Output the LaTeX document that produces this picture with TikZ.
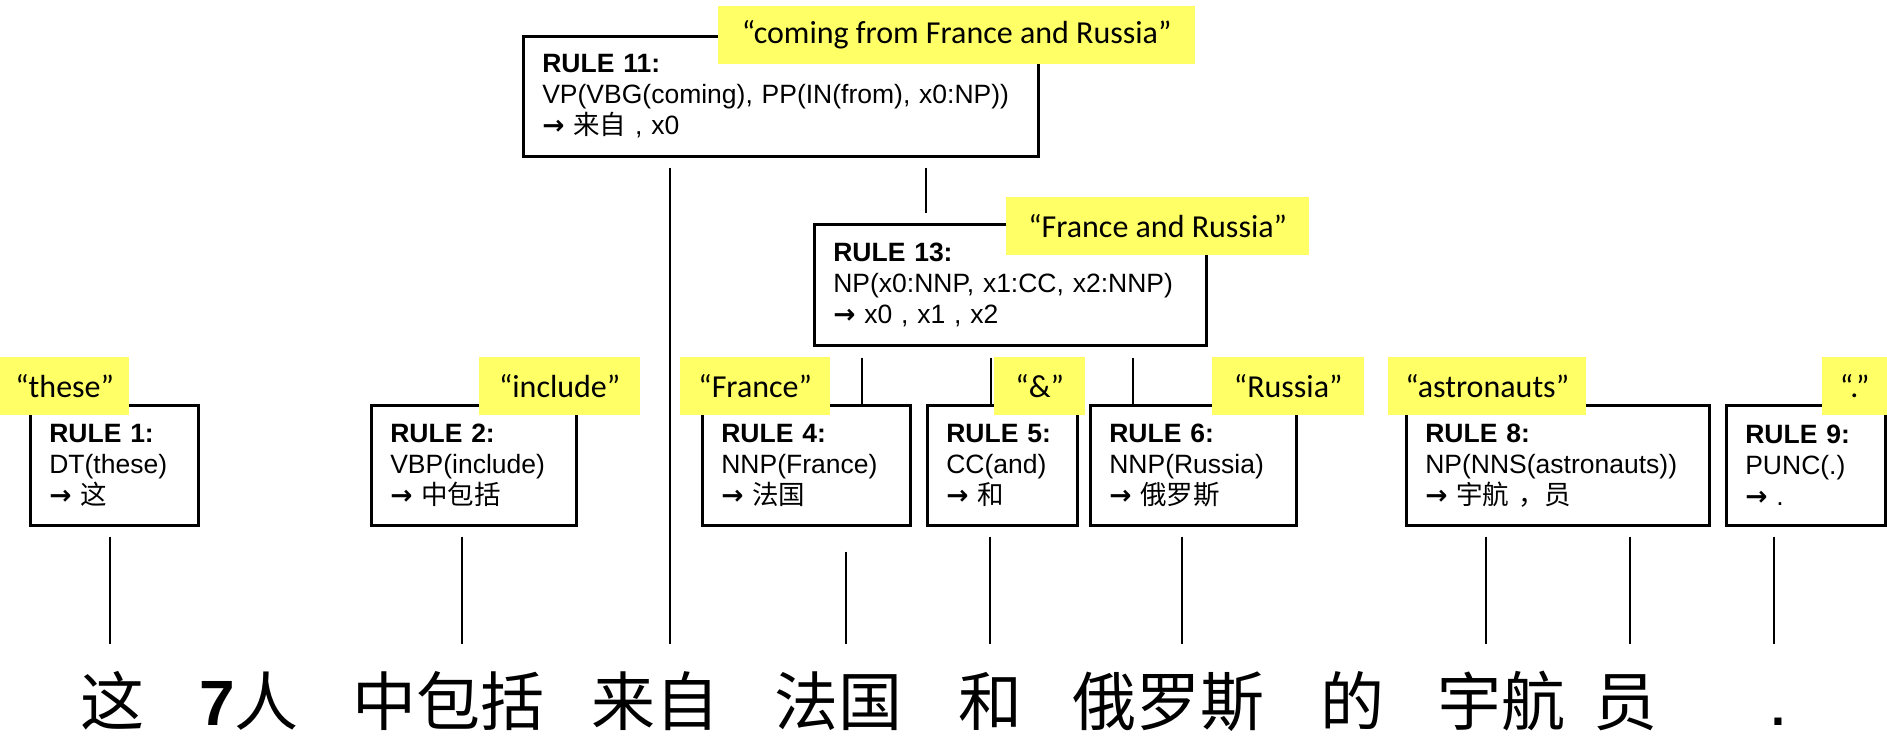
\documentclass[tikz,border=0pt]{standalone}
\usepackage{fontspec}
\setmainfont{Liberation Sans}
\newfontfamily\cjk{Noto Sans CJK SC}
\newfontfamily\lbl{Carlito}
\newfontfamily\arr{DejaVu Sans}
\definecolor{lblyellow}{RGB}{255,255,102}
\tikzset{
  rulebox/.style={draw=black, line width=2.6pt, fill=white, anchor=north west,
    inner xsep=19pt, inner ysep=0pt, align=left,
    font=\fontsize{26.5}{31}\selectfont},
  lblbox/.style={fill=lblyellow, anchor=north west, inner sep=0pt,
    minimum height=58pt, font=\lbl\fontsize{32}{36}\selectfont},
  conn/.style={line width=1.8pt},
  word/.style={anchor=base, inner sep=0pt, font=\cjk\fontsize{64}{70}\selectfont}
}
\newcommand{\ra}{{\arr\bfseries →}}
\begin{document}
\begin{tikzpicture}[x=1pt,y=-1pt]
\fill[white] (0,0) rectangle (1887,737);
\useasboundingbox (0,0) rectangle (1887,737);
% rule boxes
\node[rulebox, minimum width=515pt, minimum height=120pt, text width=477pt] (r11) at (522,35)
  {\textbf{RULE 11:}\\VP(VBG(coming), PP(IN(from), x0:NP))\\\ra\ {\cjk 来自} , x0};
\node[rulebox, minimum width=392pt, minimum height=121pt, text width=354pt] (r13) at (813,223)
  {\textbf{RULE 13:}\\NP(x0:NNP, x1:CC, x2:NNP)\\\ra\ x0 , x1 , x2};
\node[rulebox, minimum width=168pt, minimum height=120pt, text width=130pt] (r1) at (29,404)
  {\textbf{RULE 1:}\\DT(these)\\\ra\ {\cjk 这}};
\node[rulebox, minimum width=205pt, minimum height=120pt, text width=167pt] (r2) at (370,404)
  {\textbf{RULE 2:}\\VBP(include)\\\ra\ {\cjk 中包括}};
\node[rulebox, minimum width=208pt, minimum height=120pt, text width=170pt] (r4) at (701,404)
  {\textbf{RULE 4:}\\NNP(France)\\\ra\ {\cjk 法国}};
\node[rulebox, minimum width=150pt, minimum height=120pt, text width=112pt] (r5) at (926,404)
  {\textbf{RULE 5:}\\CC(and)\\\ra\ {\cjk 和}};
\node[rulebox, minimum width=206pt, minimum height=120pt, text width=168pt] (r6) at (1089,404)
  {\textbf{RULE 6:}\\NNP(Russia)\\\ra\ {\cjk 俄罗斯}};
\node[rulebox, minimum width=303pt, minimum height=120pt, text width=265pt] (r8) at (1405,404)
  {\textbf{RULE 8:}\\NP(NNS(astronauts))\\\ra\ {\cjk 宇航 ，员}};
\node[rulebox, minimum width=159pt, minimum height=120pt, text width=121pt] (r9) at (1725,404)
  {\textbf{RULE 9:}\\PUNC(.)\\\ra\ .};
% yellow labels
\node[lblbox, minimum width=477pt] (l11) at (718,6) {“coming from France and Russia”};
\node[lblbox, minimum width=303pt] (l13) at (1006,197) {“France and Russia”};
\node[lblbox, minimum width=129pt] (l1) at (0,357) {“these”};
\node[lblbox, minimum width=161pt] (l2) at (479,357) {“include”};
\node[lblbox, minimum width=150pt] (l4) at (680,357) {“France”};
\node[lblbox, minimum width=91pt] (l5) at (994,357) {“\&”};
\node[lblbox, minimum width=152pt] (l6) at (1212,357) {“Russia”};
\node[lblbox, minimum width=198pt] (l8) at (1388,357) {“astronauts”};
\node[lblbox, minimum width=65pt] (l9) at (1822,357) {“.”};
% sentence words
\node[word] (w1) at (112,725) {这};
\node[word] (w2) at (249,725) {{\fontspec{Liberation Sans}\bfseries 7}人};
\node[word] (w3) at (448,725) {中包括};
\node[word] (w4) at (655,725) {来自};
\node[word] (w5) at (838,725) {法国};
\node[word] (w6) at (990,725) {和};
\node[word] (w7) at (1168,725) {俄罗斯};
\node[word] (w8) at (1352,725) {的};
\node[word] (w9) at (1501,725) {宇航};
\node[word] (w10) at (1625,725) {员};
\node[word, font=\bfseries\fontsize{50}{56}\selectfont] (w11) at (1778,725) {.};
% connector end points
\coordinate (c11) at (670,644);
\coordinate (c13t) at (926,213);
\coordinate (a4) at (862,404);
\coordinate (a5) at (991,404);
\coordinate (a6) at (1133,404);
\coordinate (b1) at (110,644);
\coordinate (b2) at (462,644);
\coordinate (b4) at (846,644);
\coordinate (b5) at (990,644);
\coordinate (b6) at (1182,644);
\coordinate (b8a) at (1486,644);
\coordinate (b8b) at (1630,644);
\coordinate (b9) at (1774,644);
% connectors
\draw[conn] (r11.south -| c11) ++(0,10) -- (c11);
\draw[conn] (r11.south -| c13t) ++(0,10) -- (c13t);
\draw[conn] (r13.south -| a4) ++(0,11) -- (a4);
\draw[conn] (r13.south -| a5) ++(0,11) -- (a5);
\draw[conn] (r13.south -| a6) ++(0,11) -- (a6);
\draw[conn] (r1.south -| b1) ++(0,10) -- (b1);
\draw[conn] (r2.south -| b2) ++(0,10) -- (b2);
\draw[conn] (r4.south -| b4) ++(0,25) -- (b4);
\draw[conn] (r5.south -| b5) ++(0,10) -- (b5);
\draw[conn] (r6.south -| b6) ++(0,10) -- (b6);
\draw[conn] (r8.south -| b8a) ++(0,10) -- (b8a);
\draw[conn] (r8.south -| b8b) ++(0,10) -- (b8b);
\draw[conn] (r9.south -| b9) ++(0,10) -- (b9);
\end{tikzpicture}
\end{document}
